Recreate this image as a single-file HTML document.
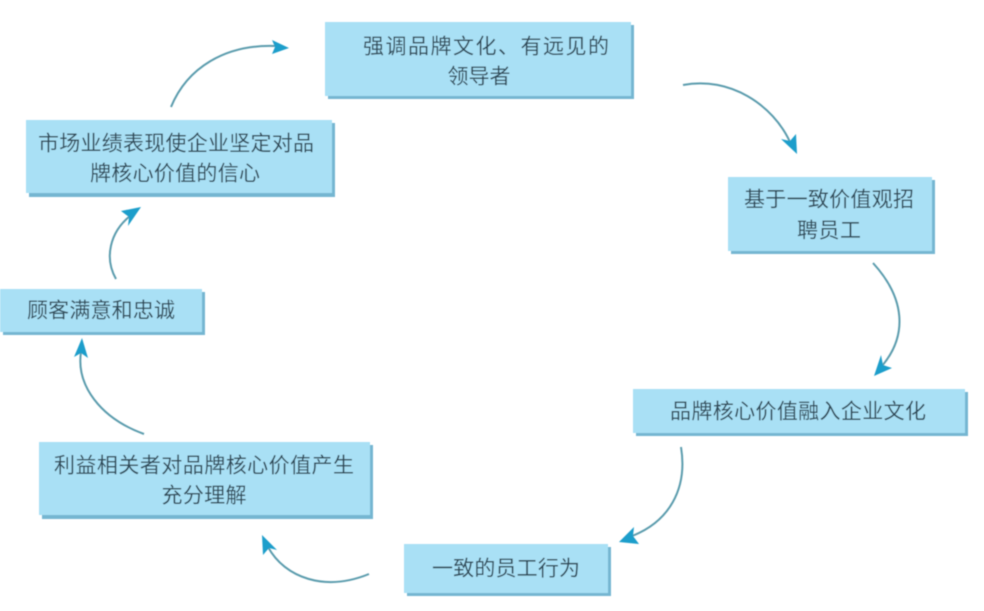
<!DOCTYPE html>
<html lang="zh">
<head>
<meta charset="utf-8">
<style>
html,body{margin:0;padding:0;background:#fff;width:984px;height:611px;overflow:hidden}
svg{display:block}
text{font-family:"Liberation Sans","Noto Sans CJK SC",sans-serif;font-size:21px;fill:#2f4a58;text-anchor:middle;dominant-baseline:central}
.s{fill:#74b6d1}
.b{fill:#a9e0f5}
.l{fill:none;stroke:#5b9cad;stroke-width:2}
.h{fill:#1f9ecb}
</style>
</head>
<body>
<svg width="984" height="611" viewBox="0 0 984 611" xmlns="http://www.w3.org/2000/svg">
<defs><filter id="bl" x="-2%" y="-2%" width="104%" height="104%"><feGaussianBlur stdDeviation="0.5"/></filter></defs>
<g filter="url(#bl)">

<rect class="s" x="328" y="25" width="306" height="74"/><rect class="b" x="325" y="22" width="306" height="74"/>
<rect class="s" x="29" y="123" width="306" height="74"/><rect class="b" x="26" y="120" width="306" height="73"/>
<rect class="s" x="3" y="292" width="202" height="43"/><rect class="b" x="0" y="289" width="202" height="43"/>
<rect class="s" x="731" y="180" width="204" height="74"/><rect class="b" x="728" y="177" width="204" height="74"/>
<rect class="s" x="636" y="392" width="332" height="44"/><rect class="b" x="633" y="389" width="332" height="44"/>
<rect class="s" x="42" y="445" width="331" height="74"/><rect class="b" x="39" y="442" width="331" height="73"/>
<rect class="s" x="407" y="547" width="204" height="49"/><rect class="b" x="404" y="544" width="204" height="49"/>

<text x="486" y="47" textLength="246" lengthAdjust="spacing">强调品牌文化、有远见的</text>
<text x="479" y="77" textLength="63" lengthAdjust="spacing">领导者</text>
<text x="176" y="144" textLength="276" lengthAdjust="spacing">市场业绩表现使企业坚定对品</text>
<text x="175" y="174" textLength="170" lengthAdjust="spacing">牌核心价值的信心</text>
<text x="101" y="311" textLength="148" lengthAdjust="spacing">顾客满意和忠诚</text>
<text x="829" y="200" textLength="170" lengthAdjust="spacing">基于一致价值观招</text>
<text x="829" y="231" textLength="64" lengthAdjust="spacing">聘员工</text>
<text x="798" y="412" textLength="256" lengthAdjust="spacing">品牌核心价值融入企业文化</text>
<text x="204" y="466" textLength="300" lengthAdjust="spacing">利益相关者对品牌核心价值产生</text>
<text x="204" y="496" textLength="85" lengthAdjust="spacing">充分理解</text>
<text x="506" y="569" textLength="148" lengthAdjust="spacing">一致的员工行为</text>

<path class="l" d="M171 107 C187 68 225 44 276 46"/>
<polygon class="h" points="289,48 272,40 275,47 272,54"/>

<path class="l" d="M683 85 C730 76 773 105 790 142"/>
<polygon class="h" points="797,154 796,134 790,141 781,139"/>

<path class="l" d="M873 263 C905 298 908 335 882 366"/>
<polygon class="h" points="874,376 892,368 883,365 881,355"/>

<path class="l" d="M681 447 C688 490 668 522 632 536"/>
<polygon class="h" points="619,542 639,544 633,536 634,527"/>

<path class="l" d="M369 574 C325 592 285 578 268 547"/>
<polygon class="h" points="262,535 263,555 269,548 277,550"/>

<path class="l" d="M144 434 C100 418 76 385 81 352"/>
<polygon class="h" points="82,338 74,357 81,353 88,358"/>

<path class="l" d="M116 279 C104 258 110 232 130 216"/>
<polygon class="h" points="141,207 121,211 129,217 128,226"/>
</g>
</svg>
</body>
</html>
